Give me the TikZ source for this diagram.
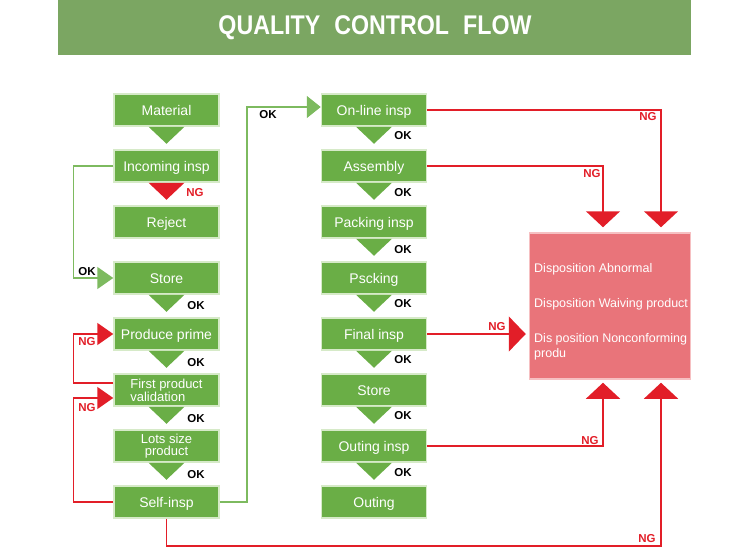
\documentclass[tikz,border=0pt]{standalone}
\usepackage{fontspec}
\setmainfont{Liberation Sans}
\newfontfamily\titlefont[FakeStretch=0.86]{Liberation Sans}
\usetikzlibrary{arrows.meta,calc}
\definecolor{hdrgreen}{RGB}{123,166,98}
\definecolor{boxgreen}{RGB}{106,174,70}
\definecolor{boxedge}{RGB}{214,234,200}
\definecolor{linegreen}{RGB}{125,186,95}
\definecolor{ngred}{RGB}{226,30,40}
\definecolor{dispfill}{RGB}{233,116,122}
\definecolor{dispedge}{RGB}{246,192,194}
\newcommand\okdown[2]{\fill[#2] ([xshift=-18pt]#1.south) -- ([xshift=18pt]#1.south) -- ([yshift=-17pt]#1.south) -- cycle;}
\begin{document}
\begin{tikzpicture}[x=1pt,y=-1pt,
 stepbox/.style={fill=boxgreen,draw=boxedge,line width=1.5pt,minimum width=105pt,minimum height=32pt,inner sep=0pt,text=white,font=\fontsize{14}{16}\selectfont,text height=14pt,text depth=3pt},
 twoline/.style={fill=boxgreen,draw=boxedge,line width=1.5pt,minimum width=105pt,minimum height=32pt,inner sep=0pt,text=white,font=\fontsize{13}{12}\selectfont},
 oklab/.style={font=\bfseries\fontsize{11.5}{12}\selectfont,text=black,inner sep=0pt},
 nglab/.style={font=\bfseries\fontsize{11.5}{12}\selectfont,text=ngred,inner sep=0pt},
 okline/.style={draw=linegreen,line width=1.5pt},
 ngline/.style={draw=ngred,line width=1.5pt},
 smallhead/.style={-{Triangle[width=22pt,length=16pt]}},
 bighead/.style={-{Triangle[width=34pt,length=16pt]}},
 disptext/.style={anchor=west,text=white,inner sep=0pt,font=\fontsize{12.5}{14}\selectfont}
]
\useasboundingbox (0,0) rectangle (750,551);
% header
\fill[hdrgreen] (58,0) rectangle (691,55);
\node[font=\titlefont\bfseries\fontsize{27}{30}\selectfont,text=white,inner sep=0pt] (title) at (375,27.5) {QUALITY\hspace{14pt}CONTROL\hspace{14pt}FLOW};

% left column
\node[stepbox] (mat) at (166.5,110) {Material};
\node[stepbox] (inc) at (166.5,166) {Incoming insp};
\node[stepbox] (rej) at (166.5,222) {Reject};
\node[stepbox] (st1) at (166.5,278) {Store};
\node[stepbox] (pp)  at (166.5,334) {Produce prime};
\node[twoline,align=left] (fpv) at (166.5,390) {First product\\validation};
\node[twoline,align=center] (lot) at (166.5,446) {Lots size\\product};
\node[stepbox] (self) at (166.5,502) {Self-insp};

% middle column
\node[stepbox] (onl) at (374,110) {On-line insp};
\node[stepbox] (asm) at (374,166) {Assembly};
\node[stepbox] (pck) at (374,222) {Packing insp};
\node[stepbox] (psk) at (374,278) {Pscking};
\node[stepbox] (fin) at (374,334) {Final insp};
\node[stepbox] (st2) at (374,390) {Store};
\node[stepbox] (oin) at (374,446) {Outing insp};
\node[stepbox] (out) at (374,502) {Outing};

% down triangles
\okdown{mat}{boxgreen}
\okdown{inc}{ngred}
\okdown{st1}{boxgreen}
\okdown{pp}{boxgreen}
\okdown{fpv}{boxgreen}
\okdown{lot}{boxgreen}
\okdown{onl}{boxgreen}
\okdown{asm}{boxgreen}
\okdown{pck}{boxgreen}
\okdown{psk}{boxgreen}
\okdown{fin}{boxgreen}
\okdown{st2}{boxgreen}
\okdown{oin}{boxgreen}

% OK / NG labels under triangles
\node[nglab] (ng0) at (195,193) {NG};
\node[oklab] (ok1) at (196,306) {OK};
\node[oklab] (ok2) at (196,363) {OK};
\node[oklab] (ok3) at (196,419) {OK};
\node[oklab] (ok4) at (196,475) {OK};
\node[oklab] (ok5) at (403,136) {OK};
\node[oklab] (ok6) at (403,193) {OK};
\node[oklab] (ok7) at (403,250) {OK};
\node[oklab] (ok8) at (403,304) {OK};
\node[oklab] (ok9) at (403,360) {OK};
\node[oklab] (ok10) at (403,416) {OK};
\node[oklab] (ok11) at (403,473) {OK};

% disposition box
\node[fill=dispfill,draw=dispedge,line width=1.5pt,minimum width=161pt,minimum height=146pt,inner sep=0pt] (disp) at (610,306) {};
\node[disptext] (d1) at (534,269) {Disposition Abnormal};
\node[disptext] (d2) at (534,304) {Disposition Waiving product};
\node[disptext] (d3) at (534,339) {Dis position Nonconforming};
\node[disptext] (d4) at (534,354) {produ};

% green connectors
\draw[okline,smallhead] (inc.west) -- ++(-40,0) |- (st1.west);
\node[oklab] (okA) at (87,272) {OK};
\draw[okline,-{Triangle[width=22pt,length=14pt]}] (self.east) -- ++(27,0) |- ([yshift=3pt]onl.west);
\node[oklab] (okB) at (268,115) {OK};

% red loops on the left
\draw[ngline,smallhead] ([yshift=7pt]fpv.west) -- ++(-40,0) |- (pp.west);
\node[nglab] (ngA) at (87,342) {NG};
\draw[ngline,smallhead] (self.west) -- ++(-40,0) |- ([yshift=-8pt]fpv.west);
\node[nglab] (ngB) at (87,408) {NG};

% red connectors to disposition
\draw[ngline,bighead] (onl.east) -| ([xshift=51pt,yshift=5pt]disp.north);
\node[nglab] (ngC) at (648,117) {NG};
\draw[ngline,bighead] (asm.east) -| ([xshift=-7pt,yshift=5pt]disp.north);
\node[nglab] (ngD) at (592,174) {NG};
\draw[ngline,-{Triangle[width=35pt,length=17pt]},shorten >=3pt] (fin.east) -- (fin.east -| disp.west);
\node[nglab] (ngE) at (497,327) {NG};
\draw[ngline,bighead] (oin.east) -| ([xshift=-7pt,yshift=-3pt]disp.south);
\node[nglab] (ngF) at (590,441) {NG};
\draw[ngline,bighead] (self.south) -- ++(0,27) -| ([xshift=51pt,yshift=-3pt]disp.south);
\node[nglab] (ngG) at (647,539) {NG};
\end{tikzpicture}
\end{document}
